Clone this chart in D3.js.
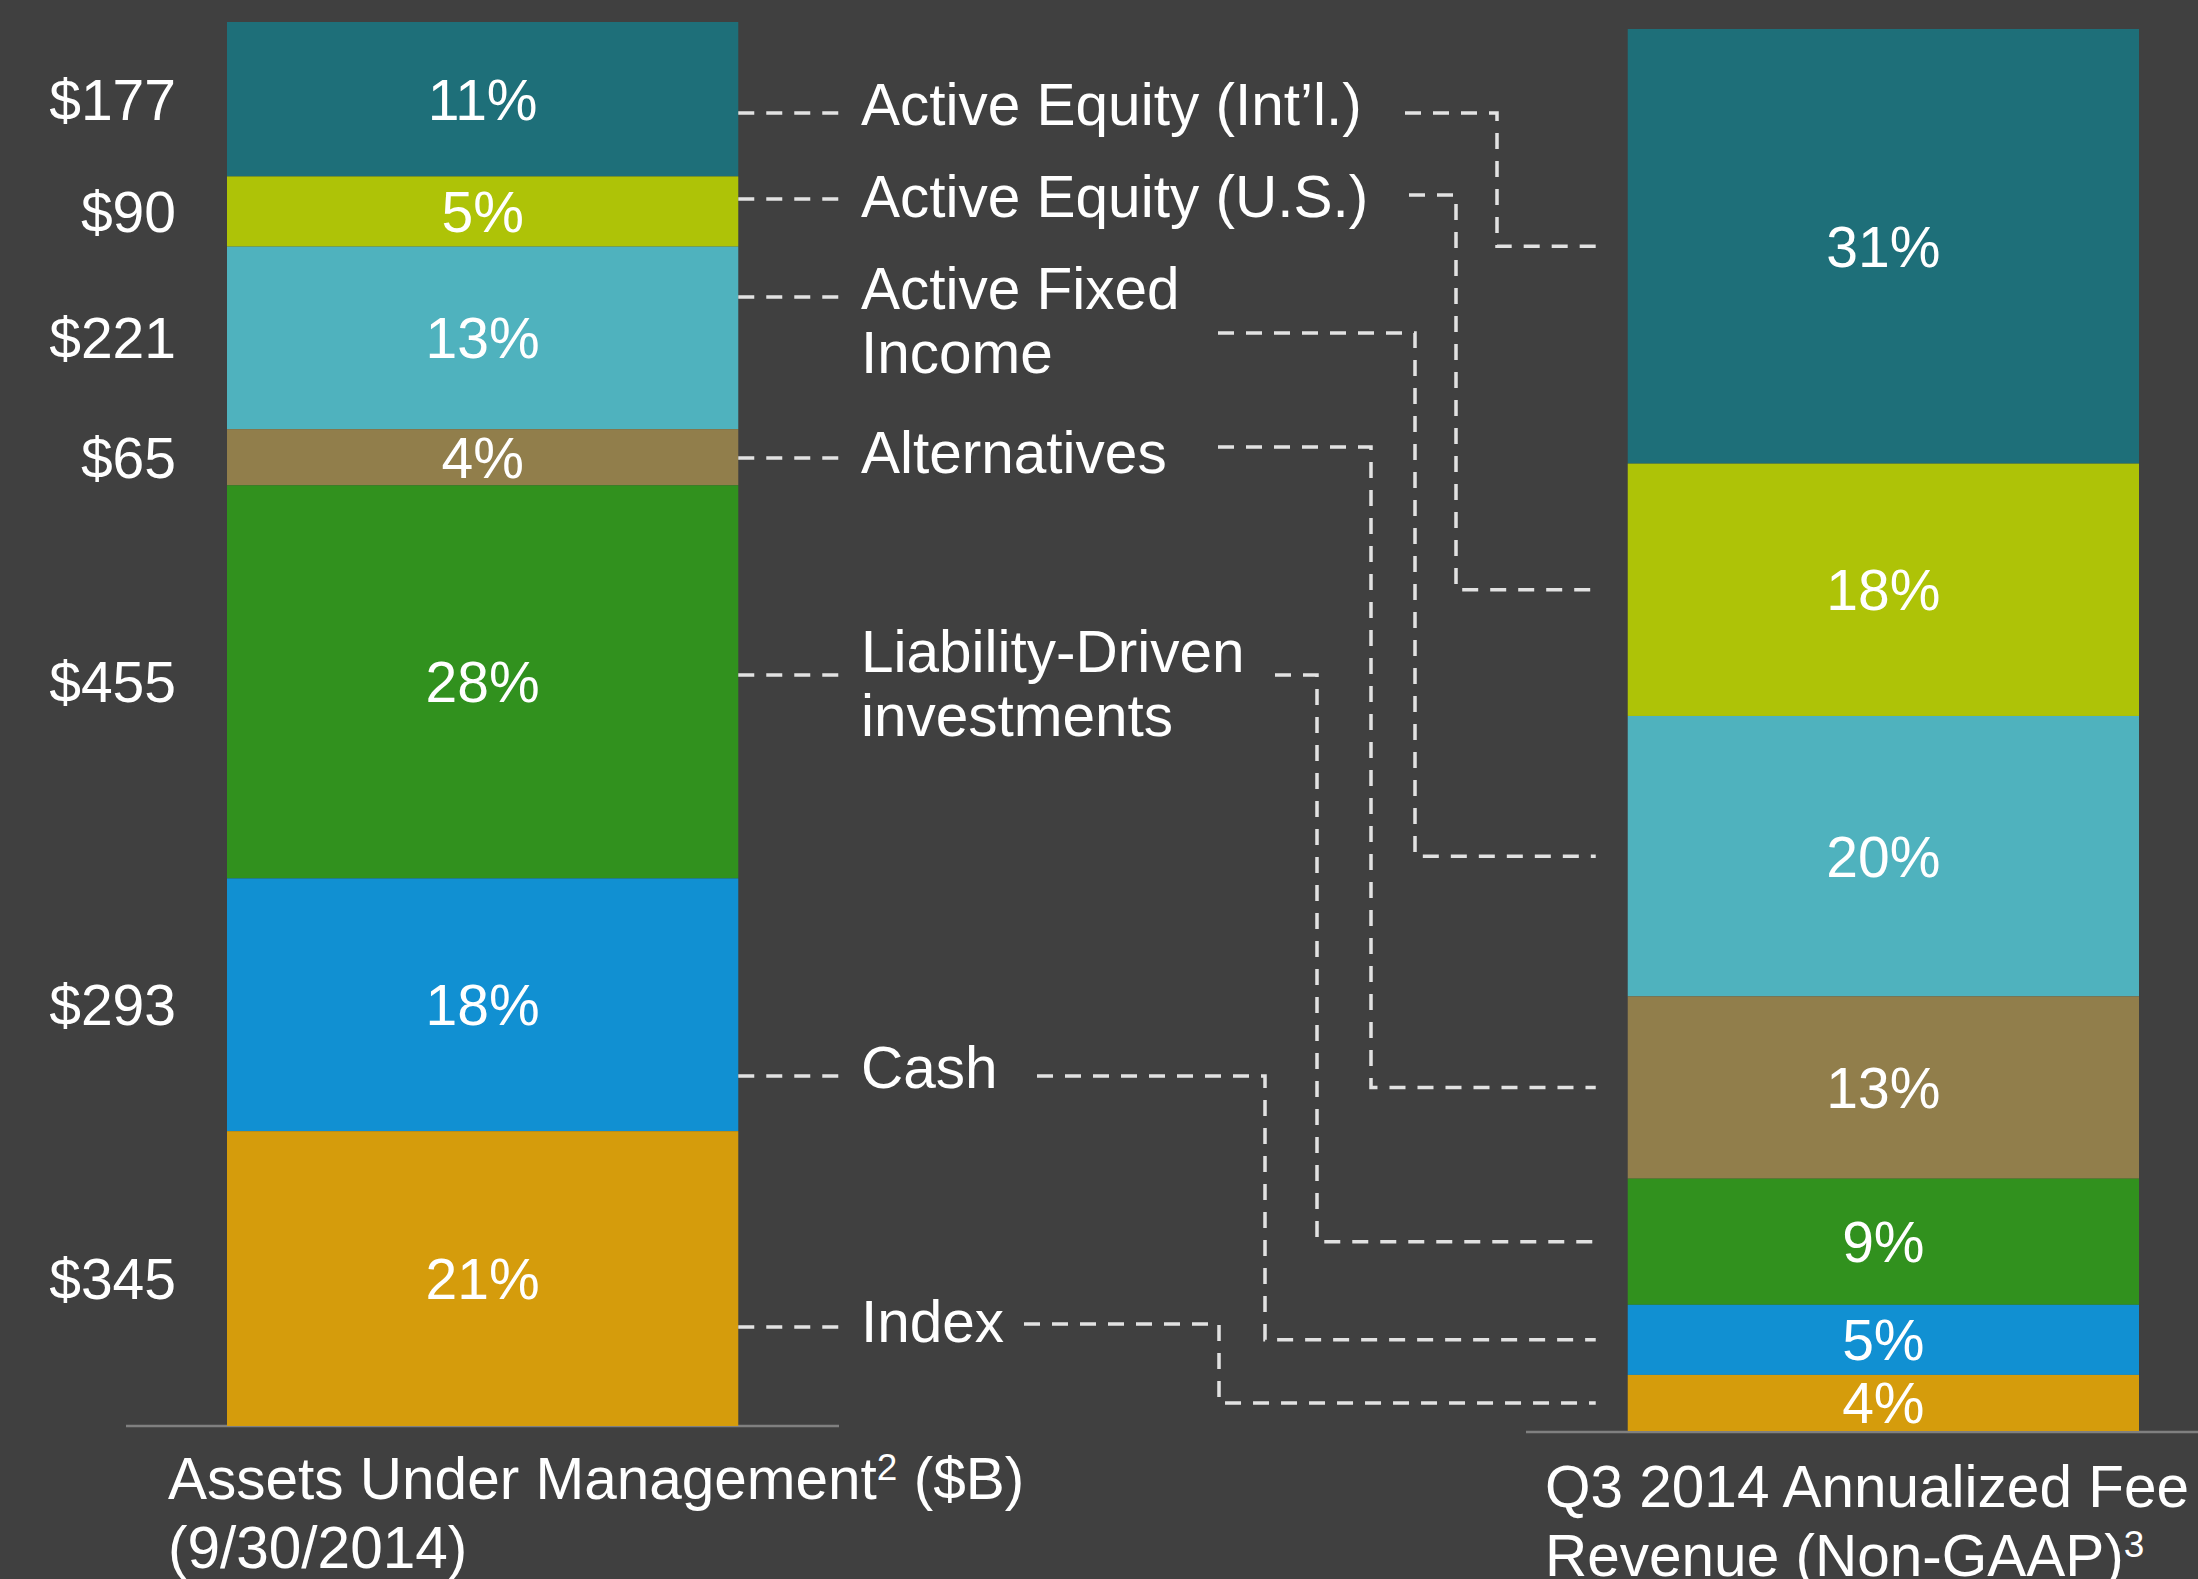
<!DOCTYPE html>
<meta charset="utf-8">
<style>
    body { margin: 0; background: #404040; }
    svg { display: block; }
    text { font-family: "Liberation Sans", Arial, sans-serif; fill: #ffffff; }
    .connector { fill: none; stroke: #e2e2e2; stroke-width: 3.5px; stroke-dasharray: 16, 12; }
    .baseline { stroke: #808080; stroke-width: 2.5px; }
</style>
<svg width="2198" height="1579"></svg>
<script src="https://d3js.org/d3.v7.min.js"></script>
<script>
    // data
    var categories = ["Active Equity (Int’l.)", "Active Equity (U.S.)", "Active Fixed Income",
        "Alternatives", "Liability-Driven investments", "Cash", "Index"];
    var labelLines = [["Active Equity (Int’l.)"], ["Active Equity (U.S.)"], ["Active Fixed", "Income"],
        ["Alternatives"], ["Liability-Driven", "investments"], ["Cash"], ["Index"]];
    var aumValues = [177, 90, 221, 65, 455, 293, 345];   // $B
    var aumShares = [11, 5, 13, 4, 28, 18, 21];          // % of AUM
    var feeShares = [31, 18, 20, 13, 9, 5, 4];           // % of fee revenue
    var barNames = ["aum", "fee"];

    var colors = ["#1e6f79", "#aec307", "#4fb2be", "#917e4b", "#31911e", "#1190d2", "#d59c0c"];

    // annotation layout (label column between the bars)
    var labelX = 861;
    var labelBaseline = [125, 217, 309, 473, 672, 1088, 1342];
    var leftDashY = [113, 199, 297, 458, 675, 1076, 1327];
    var rightDashY = [113, 195, 333, 447, 675, 1076, 1324];
    var rightStartX = [1405, 1409, 1218, 1218, 1275, 1037, 1024];
    var elbowX = [1497, 1456, 1415, 1371, 1317, 1265, 1219];

    var svg = d3.select("svg"),
        width = +svg.attr("width"),
        height = +svg.attr("height");

    var x = d3.scaleBand().domain(barNames).range([227, 2139]).paddingInner(0.635);
    var yLeft = d3.scaleLinear().domain([0, 100]).range([22, 1426]);
    var yRight = d3.scaleLinear().domain([0, 100]).range([29, 1431]);

    function stackUp(shares) {
        var acc = 0;
        return shares.map(function (s, i) {
            var d = {i: i, share: s, y0: acc, y1: acc + s};
            acc += s;
            return d;
        });
    }
    var leftStack = stackUp(aumShares);
    var rightStack = stackUp(feeShares);

    // baselines under the bars
    svg.append("line").attr("class", "baseline")
        .attr("x1", 126).attr("x2", 839).attr("y1", yLeft(100)).attr("y2", yLeft(100));
    svg.append("line").attr("class", "baseline")
        .attr("x1", 1526).attr("x2", width).attr("y1", yRight(100) + 1).attr("y2", yRight(100) + 1);

    function drawBar(stack, y, key) {
        var g = svg.append("g");
        g.selectAll("rect")
            .data(stack)
            .enter()
            .append("rect")
            .attr("x", x(key))
            .attr("width", x.bandwidth())
            .attr("y", function (d) { return y(d.y0); })
            .attr("height", function (d) { return y(d.y1) - y(d.y0); })
            .attr("fill", function (d) { return colors[d.i]; });
        g.selectAll("text")
            .data(stack)
            .enter()
            .append("text")
            .attr("x", x(key) + x.bandwidth() / 2)
            .attr("y", function (d) { return (y(d.y0) + y(d.y1)) / 2; })
            .attr("dy", "0.36em")
            .attr("text-anchor", "middle")
            .style("font-size", "57px")
            .text(function (d) { return d.share + "%"; });
    }
    drawBar(leftStack, yLeft, "aum");
    drawBar(rightStack, yRight, "fee");

    // dollar values left of the AUM bar
    svg.append("g").selectAll("text")
        .data(leftStack)
        .enter()
        .append("text")
        .attr("x", 176)
        .attr("y", function (d) { return (yLeft(d.y0) + yLeft(d.y1)) / 2; })
        .attr("dy", "0.36em")
        .attr("text-anchor", "end")
        .style("font-size", "57px")
        .text(function (d) { return "$" + aumValues[d.i]; });

    // category labels
    var labels = svg.append("g").selectAll("text")
        .data(categories)
        .enter()
        .append("text")
        .attr("x", labelX)
        .attr("y", function (d, i) { return labelBaseline[i]; })
        .style("font-size", "58.5px");
    labels.selectAll("tspan")
        .data(function (d, i) { return labelLines[i]; })
        .enter()
        .append("tspan")
        .attr("x", labelX)
        .attr("dy", function (d, j) { return j === 0 ? 0 : 64; })
        .text(function (d) { return d; });

    // dashed connectors
    var line = d3.line();
    var conn = svg.append("g");
    categories.forEach(function (c, i) {
        conn.append("path").attr("class", "connector")
            .attr("d", line([[x("aum") + x.bandwidth(), leftDashY[i]], [839, leftDashY[i]]]));
        var endY = (yRight(rightStack[i].y0) + yRight(rightStack[i].y1)) / 2;
        conn.append("path").attr("class", "connector")
            .attr("d", line([[rightStartX[i], rightDashY[i]], [elbowX[i], rightDashY[i]],
                [elbowX[i], endY], [x("fee") - 32, endY]]));
    });

    // bar titles
    var t1 = svg.append("text").attr("x", 168).attr("y", 1499).style("font-size", "58.5px");
    t1.append("tspan").text("Assets Under Management");
    t1.append("tspan").attr("dy", -19).style("font-size", "37px").text("2");
    t1.append("tspan").attr("dy", 19).text(" ($B)");
    svg.append("text").attr("x", 168).attr("y", 1568).style("font-size", "58.5px").text("(9/30/2014)");

    svg.append("text").attr("x", 1545).attr("y", 1507).style("font-size", "58.5px").text("Q3 2014 Annualized Fee");
    var t2 = svg.append("text").attr("x", 1545).attr("y", 1576).style("font-size", "58.5px");
    t2.append("tspan").text("Revenue (Non-GAAP)");
    t2.append("tspan").attr("dy", -19).style("font-size", "37px").text("3");
</script>
